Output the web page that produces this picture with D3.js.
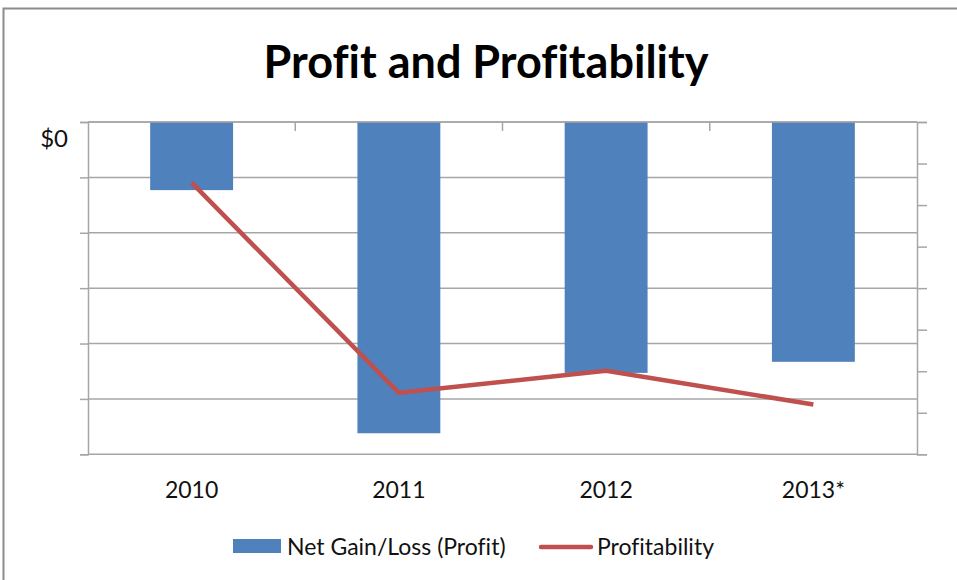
<!DOCTYPE html>
<html>
<head>
<meta charset="utf-8">
<script src="https://cdn.jsdelivr.net/npm/d3@7"></script>
<style>
  html, body { margin: 0; padding: 0; background: #fff; }
  svg { display: block; font-family: Lato, "Open Sans", sans-serif; font-variant-ligatures: none; }
</style>
</head>
<body>
<svg id="chart" width="957" height="580"></svg>
<script>
// data (left axis hides its units, only $0 is shown)
const years = ["2010", "2011", "2012", "2013*"];
const netGain = [-123, -562, -453, -433];
const profitability = [-14.6, -65.2, -59.9, -68.0];
const leftTicks = [0, -100, -200, -300, -400, -500, -600];
const rightTicks = [0, -10, -20, -30, -40, -50, -60, -70, -80];

const grey = "#a6a6a6";
const blue = "#4f81bd";
const red = "#c0504d";

const svg = d3.select("#chart");

svg.append("rect")
  .attr("width", 957).attr("height", 580).attr("fill", "#fff");

// outer chart border
svg.append("rect")
  .attr("x", 3.5).attr("y", 8.5)
  .attr("width", 980).attr("height", 620)
  .attr("fill", "none").attr("stroke", "#8c8c8c").attr("stroke-width", 2);

const plot = { left: 88, right: 917, top: 122, bottom: 454.3 };

const x = d3.scaleBand()
  .domain(years)
  .range([plot.left, plot.right])
  .paddingInner(0.6)
  .paddingOuter(0.3);

const yLeft = d3.scaleLinear().domain([-600, 0]).range([plot.bottom, plot.top]);
const yRight = d3.scaleLinear().domain([-80, 0]).range([plot.bottom, plot.top]);

// gridlines
svg.append("g")
  .selectAll("line")
  .data(leftTicks)
  .join("line")
  .attr("x1", plot.left).attr("x2", plot.right)
  .attr("y1", (d) => yLeft(d)).attr("y2", (d) => yLeft(d))
  .attr("stroke", grey).attr("stroke-width", 1.5);

// left axis
const leftAxis = svg.append("g")
  .attr("transform", `translate(${plot.left},0)`)
  .call(d3.axisLeft(yLeft).tickValues(leftTicks).tickSize(8).tickFormat(() => ""));
leftAxis.select(".domain").attr("stroke", grey).attr("stroke-width", 1.5);
leftAxis.selectAll(".tick line").attr("stroke", grey).attr("stroke-width", 1.5);

// only the $0 label is visible, sitting a bit under its tick
svg.append("text")
  .attr("x", 68).attr("y", yLeft(0) + 25)
  .attr("text-anchor", "end")
  .attr("font-size", 24).attr("fill", "#111")
  .text("$0");

// right axis (no labels)
const rightAxis = svg.append("g")
  .attr("transform", `translate(${plot.right},0)`)
  .call(d3.axisRight(yRight).tickValues(rightTicks).tickSize(10).tickFormat(() => ""));
rightAxis.select(".domain").attr("stroke", grey).attr("stroke-width", 1.5);
rightAxis.selectAll(".tick line").attr("stroke", grey).attr("stroke-width", 1.5);

// bars
svg.append("g")
  .selectAll("rect")
  .data(netGain)
  .join("rect")
  .attr("x", (d, i) => x(years[i]))
  .attr("y", yLeft(0))
  .attr("width", x.bandwidth())
  .attr("height", (d) => yLeft(d) - yLeft(0))
  .attr("fill", blue);

// category axis crosses at $0, with marks between categories
const step = x.step();
const boundaries = years.slice(1).map((y) => x(y) - step * x.paddingInner() / 2);
svg.append("line")
  .attr("x1", plot.left).attr("x2", plot.right)
  .attr("y1", yLeft(0)).attr("y2", yLeft(0))
  .attr("stroke", grey).attr("stroke-width", 1.5);
svg.append("g")
  .selectAll("line")
  .data(boundaries)
  .join("line")
  .attr("x1", (d) => d).attr("x2", (d) => d)
  .attr("y1", yLeft(0)).attr("y2", yLeft(0) + 9)
  .attr("stroke", grey).attr("stroke-width", 1.5);

// year labels below the plot
svg.append("g")
  .selectAll("text")
  .data(years)
  .join("text")
  .attr("x", (d) => x(d) + x.bandwidth() / 2)
  .attr("y", 498)
  .attr("text-anchor", "middle")
  .attr("font-size", 23).attr("fill", "#111")
  .text((d) => d);

// profitability line
const line = d3.line()
  .x((d, i) => x(years[i]) + x.bandwidth() / 2)
  .y((d) => yRight(d));
svg.append("path")
  .datum(profitability)
  .attr("d", line)
  .attr("fill", "none")
  .attr("stroke", red).attr("stroke-width", 4.5)
  .attr("stroke-linejoin", "round");

// title
svg.append("text")
  .attr("x", 486).attr("y", 78)
  .attr("text-anchor", "middle")
  .attr("font-size", 45).attr("font-weight", "bold").attr("fill", "#000")
  .text("Profit and Profitability");

// legend
const legend = svg.append("g");
legend.append("rect")
  .attr("x", 233).attr("y", 539).attr("width", 48).attr("height", 14)
  .attr("fill", blue);
legend.append("text")
  .attr("x", 287).attr("y", 555)
  .attr("font-size", 23).attr("fill", "#111")
  .text("Net Gain/Loss (Profit)");
legend.append("line")
  .attr("x1", 541).attr("x2", 591).attr("y1", 547).attr("y2", 547)
  .attr("stroke", red).attr("stroke-width", 4.5).attr("stroke-linecap", "round");
legend.append("text")
  .attr("x", 597).attr("y", 555)
  .attr("font-size", 23).attr("fill", "#111")
  .text("Profitability");
</script>
</body>
</html>
